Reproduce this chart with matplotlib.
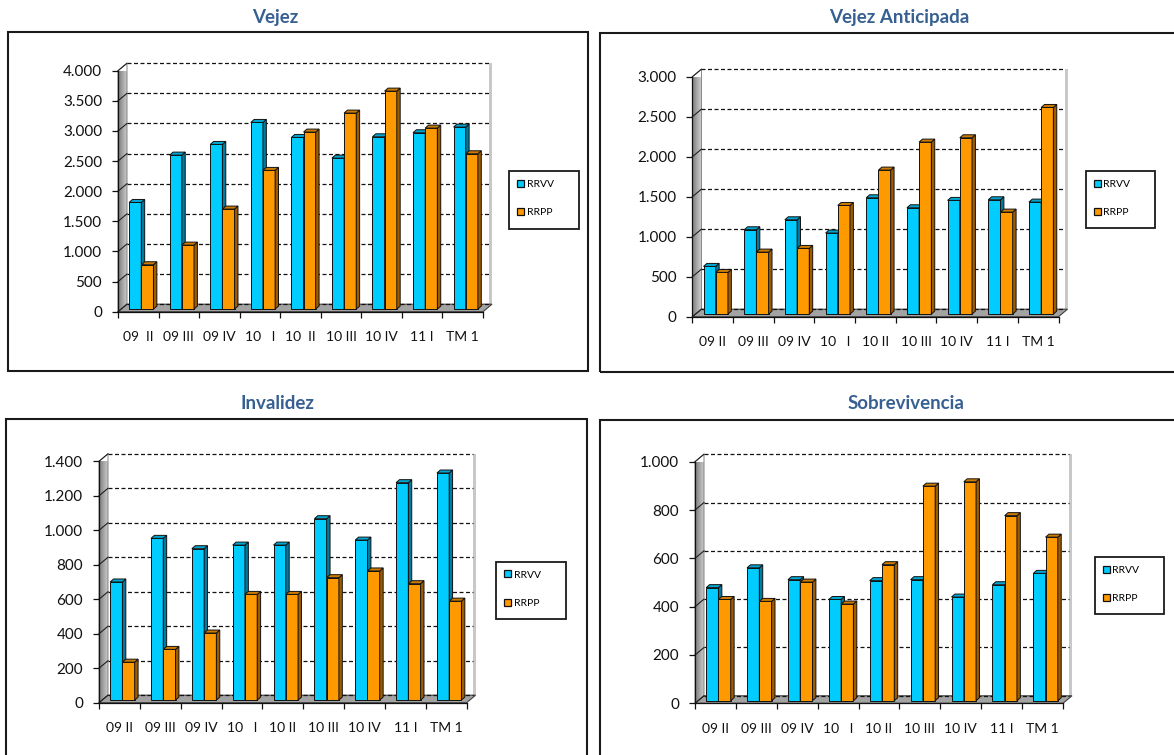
import numpy as np
import matplotlib
matplotlib.use("Agg")
import matplotlib.pyplot as plt
from matplotlib.patches import Polygon, Rectangle
from matplotlib.ticker import FixedLocator, FuncFormatter

plt.rcParams["font.family"] = ["Lato", "DejaVu Sans"]

# ---- data -----------------------------------------------------------------
labels_vejez = ["09  II", "09 III", "09 IV", "10   I", "10  II", "10 III", "10 IV", "11 I", "TM 1"]
labels_other = ["09 II", "09 III", "09 IV", "10   I", "10 II", "10 III", "10 IV", "11 I", "TM 1"]
series_names = ["RRVV", "RRPP"]

vejez_rrvv = [1770, 2556, 2733, 3098, 2849, 2506, 2860, 2927, 3021]
vejez_rrpp = [736, 1062, 1660, 2302, 2938, 3253, 3618, 3004, 2578]

anticipada_rrvv = [596, 1054, 1179, 1013, 1454, 1329, 1421, 1429, 1400]
anticipada_rrpp = [521, 775, 821, 1358, 1800, 2150, 2204, 1275, 2583]

invalidez_rrvv = [685, 938, 878, 899, 899, 1052, 928, 1261, 1317]
invalidez_rrpp = [220, 294, 389, 613, 613, 710, 749, 675, 574]

sobrev_rrvv = [468, 550, 501, 419, 497, 501, 429, 480, 527]
sobrev_rrpp = [419, 411, 491, 400, 563, 888, 906, 766, 677]

titles = ["Vejez", "Vejez Anticipada", "Invalidez", "Sobrevivencia"]
y_max = [4000, 3000, 1400, 1000]
y_step = [500, 500, 200, 200]

# ---- styling ----------------------------------------------------------------
W, H = 1174, 755
TITLE_COLOR = "#376092"
FACE = {"RRVV": ("#00CCFF", "#007A9E", "#00A6D2"),
        "RRPP": ("#FF9900", "#9E5C00", "#CC7A00")}

fig = plt.figure(figsize=(W / 100, H / 100), dpi=100)


def fx(x):
    return x / W


def fy(y):
    return 1 - y / H


def thousands(v, _pos=None):
    return f"{int(round(v)):,}".replace(",", ".")


def draw_panel(geom, title, rrvv, rrpp, cats, ymax, ystep):
    fl, fr, y0, yt = geom["axes"]
    ax = fig.add_axes([fx(fl), fy(y0), (fr - fl) / W, (y0 - yt) / H])
    n = len(cats)
    ax.set_xlim(-0.5, n - 0.5)
    ax.set_ylim(0, ymax)
    ax.set_facecolor("none")

    sx = n / (fr - fl)          # data units per pixel, x
    sy = ymax / (y0 - yt)       # data units per pixel, y
    wx, wy = 9 * sx, 7.5 * sy   # wall depth
    x_left, x_right = -0.5, n - 0.5

    # left side wall with a light gradient
    wall = Polygon([(x_left, 0), (x_left, ymax), (x_left + wx, ymax + wy), (x_left + wx, wy)],
                   closed=True, fc="none", ec="#707070", lw=0.6, clip_on=False, zorder=1.2)
    ax.add_patch(wall)
    grad = np.linspace(0, 1, 64).reshape(1, -1)
    im = ax.imshow(grad, cmap=matplotlib.colors.LinearSegmentedColormap.from_list(
        "wall", ["#7a7a7a", "#a3a3a3", "#cccccc"]),
        extent=(x_left, x_left + wx, 0, ymax + wy), aspect="auto", zorder=1.1,
        interpolation="bilinear")
    im.set_clip_path(wall)

    # floor
    ax.add_patch(Polygon([(x_left, 0), (x_right, 0), (x_right + wx, wy), (x_left + wx, wy)],
                         closed=True, fc="#a3a3a3", ec="#404040", lw=0.8,
                         clip_on=False, zorder=1.3))
    # light edge on the right of the back wall
    ax.add_patch(Rectangle((x_right + wx - 3 * sx, wy), 3 * sx, ymax,
                           fc="#c8c8c8", ec="none", clip_on=False, zorder=1.0))

    # gridlines on back wall, continued across the side wall
    ticks = np.arange(0, ymax + 1, ystep)
    for v in ticks:
        ax.plot([x_left + wx, x_right + wx - 3 * sx], [v + wy, v + wy], ls=(0, (3.2, 2.0)),
                color="#111111", lw=0.9, clip_on=False, zorder=1.4)
        ax.plot([x_left, x_left + wx], [v, v + wy], color="#202020", lw=0.8,
                clip_on=False, zorder=1.4)

    # bars with depth faces
    bw = 0.3
    bx_off, by_off = 3 * sx, 2.6 * sy
    ddx, ddy = 3.4 * sx, 3.0 * sy
    pos = np.arange(n)
    handles = []
    for z, (name, vals, shift) in enumerate([("RRVV", rrvv, -bw), ("RRPP", rrpp, 0.0)]):
        front, side, top = FACE[name]
        bars = ax.bar(pos + shift + bx_off, vals, width=bw, bottom=by_off, align="edge",
                      color=front, edgecolor="#111111", linewidth=0.7,
                      zorder=3 + z, clip_on=False, label=name)
        handles.append(bars)
        for r in bars:
            x0, y0b = r.get_x(), r.get_y()
            x1, y1 = x0 + r.get_width(), y0b + r.get_height()
            ax.add_patch(Polygon([(x1, y0b), (x1 + ddx, y0b + ddy), (x1 + ddx, y1 + ddy), (x1, y1)],
                                 closed=True, fc=side, ec="#111111", lw=0.7,
                                 clip_on=False, zorder=3 + z))
            ax.add_patch(Polygon([(x0, y1), (x1, y1), (x1 + ddx, y1 + ddy), (x0 + ddx, y1 + ddy)],
                                 closed=True, fc=top, ec="#111111", lw=0.7,
                                 clip_on=False, zorder=3 + z))

    # axes and ticks
    for s in ("top", "right"):
        ax.spines[s].set_visible(False)
    for s in ("left", "bottom"):
        ax.spines[s].set_color("#111111")
        ax.spines[s].set_linewidth(0.9)
        ax.spines[s].set_zorder(1.5)

    ax.yaxis.set_major_locator(FixedLocator(ticks))
    ax.yaxis.set_major_formatter(FuncFormatter(thousands))
    ax.tick_params(axis="y", direction="out", length=4, width=0.9, pad=7.5,
                   labelsize=11, colors="#111111")

    ax.set_xticks(pos)
    ax.set_xticklabels(cats)
    ax.xaxis.set_minor_locator(FixedLocator(np.arange(n + 1) - 0.5))
    ax.tick_params(axis="x", which="major", length=0, pad=14, labelsize=10, colors="#111111")
    ax.tick_params(axis="x", which="minor", direction="out", length=4, width=0.9, color="#111111")

    # outer frame
    l, t, r, b = geom["frame"]
    fig.add_artist(Rectangle((fx(l), fy(b)), (r - l) / W, (b - t) / H,
                             transform=fig.transFigure, fill=False, ec="#1a1a1a", lw=1.5))
    # title
    tx, ty = geom["title"]
    fig.text(fx(tx), fy(ty), title, ha="center", va="center", fontsize=13.5,
             fontweight="bold", color=TITLE_COLOR)

    # legend box
    ll, lt, lr, lb = geom["legend"]
    fig.add_artist(Rectangle((fx(ll), fy(lb)), (lr - ll) / W, (lb - lt) / H,
                             transform=fig.transFigure, fill=False, ec="#1a1a1a", lw=1.3))
    leg = fig.legend(handles, series_names, loc="center",
                     bbox_to_anchor=(fx(ll + 0.38 * (lr - ll)), fy(lt + 0.48 * (lb - lt))),
                     bbox_transform=fig.transFigure, frameon=False, fontsize=7.5,
                     handlelength=0.65, handleheight=0.65, handletextpad=0.25,
                     labelspacing=1.85, borderpad=0)
    for h in leg.legend_handles:
        h.set_edgecolor("#111111")
        h.set_linewidth(0.9)
    return ax


geoms = [
    {"axes": (118, 483, 311.7, 70.7), "frame": (7.5, 32, 588, 371),
     "title": (275, 17), "legend": (508.7, 170.7, 579, 229)},
    {"axes": (692.4, 1058.5, 316.7, 76.7), "frame": (599.5, 33.5, 1182, 372.3),
     "title": (899, 17), "legend": (1086, 171, 1155, 228)},
    {"axes": (99, 466.6, 702.7, 461.3), "frame": (6, 419, 587, 765),
     "title": (277.7, 403.3), "legend": (496, 561.7, 565.5, 619)},
    {"axes": (695, 1063, 703.3, 461.7), "frame": (599.7, 420, 1182, 765),
     "title": (905.8, 403.3), "legend": (1094.6, 556.7, 1164, 614.3)},
]

panels = [
    (vejez_rrvv, vejez_rrpp, labels_vejez),
    (anticipada_rrvv, anticipada_rrpp, labels_other),
    (invalidez_rrvv, invalidez_rrpp, labels_other),
    (sobrev_rrvv, sobrev_rrpp, labels_other),
]

for g, title, (a, b, cats), ym, st in zip(geoms, titles, panels, y_max, y_step):
    draw_panel(g, title, a, b, cats, ym, st)

fig.savefig("out.png", dpi=100)
